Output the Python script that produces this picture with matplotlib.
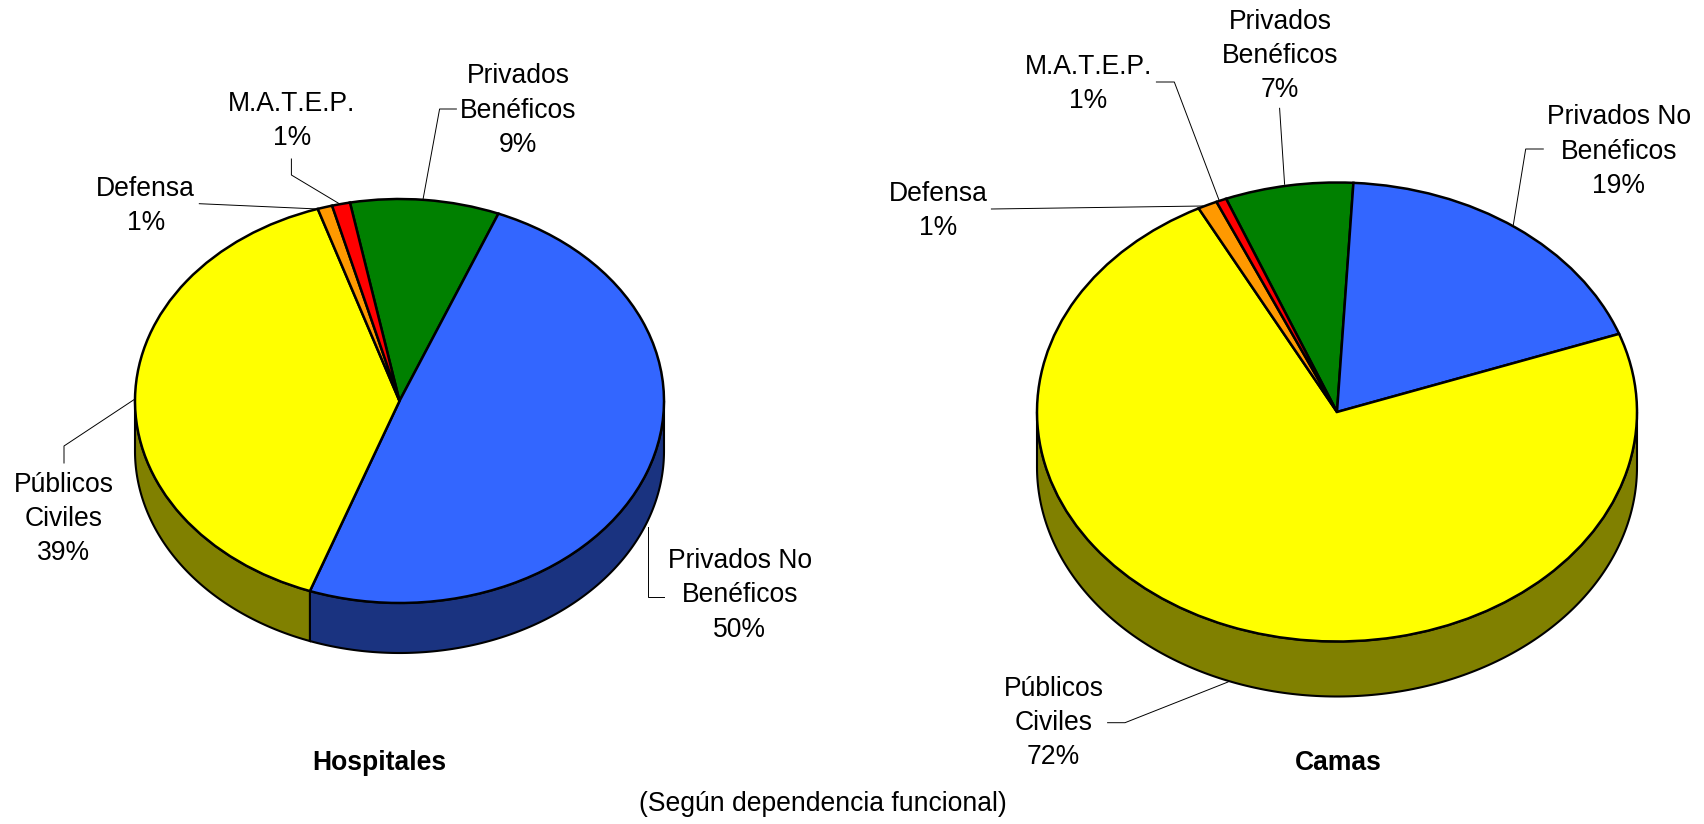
import numpy as np
import matplotlib
matplotlib.use('Agg')
import matplotlib.pyplot as plt

plt.rcParams['font.family'] = ['Liberation Sans', 'DejaVu Sans']
plt.rcParams['text.kerning_factor'] = 6

W, H = 1704, 824

categorias = ['Privados\nBenéficos', 'Privados No\nBenéficos', 'Públicos\nCiviles', 'Defensa', 'M.A.T.E.P.']
pct_hospitales = ['9%', '50%', '39%', '1%', '1%']
pct_camas = ['7%', '19%', '72%', '1%', '1%']

hospitales = [9.1, 49.4, 39.5, 0.9, 1.1]
camas = [6.9, 18.6, 72.9, 1.05, 0.55]

colores = ['#008000', '#3366FF', '#FFFF00', '#FF9900', '#FF0000']
oscuros = ['#004000', '#1A3380', '#808000', '#804D00', '#800000']

FS = 19.1
LS = 1.42


def pie3d(valores, inicio, cx, cy, a, b, prof):
    ax = fig.add_axes([(cx - a) / W, (H - cy - b - prof) / H, 2 * a / W, (2 * b + prof) / H])
    wedges, _ = ax.pie(valores, colors=colores, startangle=inicio, counterclock=False,
                       wedgeprops={'edgecolor': 'black', 'linewidth': 1.8, 'clip_on': False})
    ax.set_aspect('auto')
    ax.set_xlim(-1, 1)
    ax.set_ylim(-1 - prof / b, 1)
    d = prof / b
    # pared lateral: solo la parte de adelante de cada porcion
    for w, col in zip(wedges, oscuros):
        for k in [-720, -360, 0, 360]:
            t1 = max(w.theta1, 180 + k)
            t2 = min(w.theta2, 360 + k)
            if t2 <= t1:
                continue
            t = np.radians(np.linspace(t1, t2, 200))
            xs = np.r_[np.cos(t), np.cos(t)[::-1]]
            ys = np.r_[np.sin(t), np.sin(t)[::-1] - d]
            ax.fill(xs, ys, facecolor=col, edgecolor='black', linewidth=1.5, zorder=0.5, clip_on=False)
    return ax


fig = plt.figure(figsize=(W / 100, H / 100), dpi=100, facecolor='white')

pie3d(hospitales, 100.8, 399.5, 401, 264.5, 202, 50)
pie3d(camas, 111.7, 1337, 412, 300, 229.5, 55)

# capa en pixeles para rotulos y lineas guia
ov = fig.add_axes([0, 0, 1, 1], zorder=5)
ov.set_xlim(0, W)
ov.set_ylim(H, 0)
ov.axis('off')
ov.patch.set_alpha(0)

pos_hosp = [(518, 110.5), (739.7, 595.5), (63.7, 519), (145.7, 206), (292, 121)]
pos_camas = [(1280, 56), (1619, 151.5), (1053.5, 723), (938, 211), (1088.6, 84)]

guias = [
    [(456.4, 109), (439.6, 109), (423, 199.5)],
    [(291.4, 159), (291.4, 175), (338.6, 203.3)],
    [(199.3, 203.7), (318, 209)],
    [(64, 463), (64, 446), (135, 399)],
    [(664, 597), (647.5, 597), (647.5, 526.5)],
    [(1279.6, 108.3), (1284.6, 184.3)],
    [(1156.4, 82), (1174.3, 82), (1219, 200)],
    [(991.4, 209), (1202.9, 206)],
    [(1543.3, 149), (1525.7, 149), (1513.3, 225)],
    [(1107.6, 722.7), (1125, 722.7), (1228, 682)],
]
for g in guias:
    ov.plot([p[0] for p in g], [p[1] for p in g], color='black', lw=0.7, solid_joinstyle='miter')

for cat, pct, p in zip(categorias, pct_hospitales, pos_hosp):
    ov.text(p[0], p[1], cat + '\n' + pct, ha='center', va='center', fontsize=FS, linespacing=LS, color='black')
for cat, pct, p in zip(categorias, pct_camas, pos_camas):
    ov.text(p[0], p[1], cat + '\n' + pct, ha='center', va='center', fontsize=FS, linespacing=LS, color='black')

ov.text(379.5, 763, 'Hospitales', ha='center', va='center', fontsize=FS, fontweight='bold')
ov.text(1338, 763, 'Camas', ha='center', va='center', fontsize=FS, fontweight='bold')
ov.text(823, 804, '(Según dependencia funcional)', ha='center', va='center', fontsize=FS)

fig.savefig('out.png', dpi=100)
